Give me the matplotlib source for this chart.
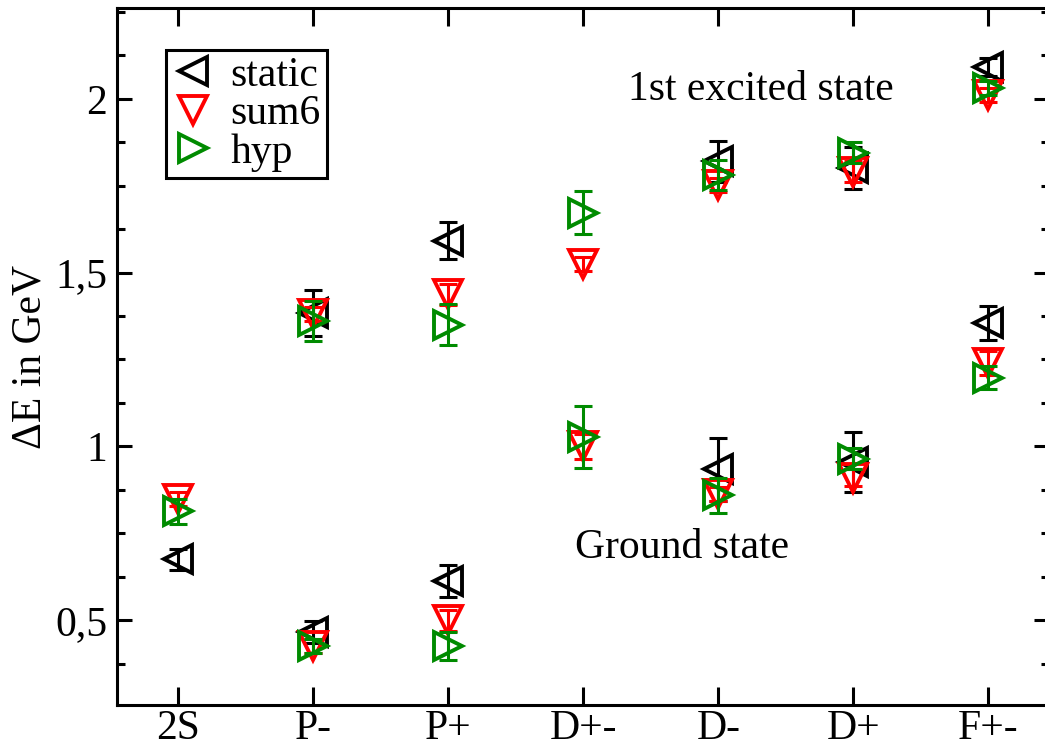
import numpy as np
import matplotlib
matplotlib.use("Agg")
import matplotlib.pyplot as plt
from matplotlib.ticker import FixedLocator, MultipleLocator, FuncFormatter
from matplotlib.font_manager import FontProperties

nan = np.nan

#categories on the x axis
cats = ["2S", "P-", "P+", "D+-", "D-", "D+", "F+-"]

#ground state values
static_gs = [0.675, 0.465, 0.612, nan, 0.934, 0.955, 1.356]
static_gs_err = [0.03, 0.032, 0.046, nan, 0.09, 0.085, 0.049]
sum6_gs = [0.848, 0.425, 0.50, 1.0, 0.862, 0.91, 1.24]
sum6_gs_err = [0.02, 0.02, 0.03, 0.035, 0.02, 0.025, 0.035]
hyp_gs = [0.813, 0.425, 0.425, 1.026, 0.859, 0.965, 1.198]
hyp_gs_err = [0.036, 0.02, 0.04, 0.089, 0.05, 0.03, 0.033]

#1st excited state values
static_ex = [nan, 1.385, 1.592, nan, 1.82, 1.8, 2.092]
static_ex_err = [nan, 0.066, 0.053, nan, 0.058, 0.06, 0.025]
sum6_ex = [nan, 1.38, 1.437, 1.526, 1.753, 1.79, 2.01]
sum6_ex_err = [nan, 0.02, 0.03, 0.02, 0.02, 0.03, 0.02]
hyp_ex = [nan, 1.36, 1.35, 1.672, 1.78, 1.845, 2.032]
hyp_ex_err = [nan, 0.057, 0.059, 0.062, 0.043, 0.03, 0.02]

FAM = ["Liberation Serif", "DejaVu Serif"]
plt.rcParams["font.family"] = FAM
plt.rcParams["font.size"] = 30
fp = FontProperties(family=FAM, size=30)

x = np.arange(1, len(cats) + 1)

fig = plt.figure(figsize=(10.45, 7.45), dpi=100)
ax = fig.add_axes([0.112, 0.0537, 0.892, 0.935])

series = [
    ("static", "<", "black", [static_gs, static_ex], [static_gs_err, static_ex_err]),
    ("sum6", "v", "red", [sum6_gs, sum6_ex], [sum6_gs_err, sum6_ex_err]),
    ("hyp", ">", "#008b00", [hyp_gs, hyp_ex], [hyp_gs_err, hyp_ex_err]),
]

#draw error bars and hollow triangles for each series
for name, m, col, vals, errs in series:
    for k in range(2):
        ax.errorbar(x, vals[k], yerr=errs[k], fmt="none", ecolor=col,
                    elinewidth=2.2, capsize=6.5, capthick=2.2)
        ax.plot(x, vals[k], linestyle="none", marker=m, ms=20, mfc="none",
                mec=col, mew=2.8, label=name if k == 0 else None)

ax.text(4.33, 2.026, "1st excited state", va="center", ha="left", fontproperties=fp)
ax.text(3.94, 0.707, "Ground state", va="center", ha="left", fontproperties=fp)

ax.set_xlim(0.548, 7.45)
ax.set_ylim(0.256, 2.26)
ax.set_xticks(x)
ax.set_xticklabels(cats, fontproperties=fp)
ax.yaxis.set_major_locator(FixedLocator([0.5, 1.0, 1.5, 2.0]))
ax.yaxis.set_minor_locator(MultipleLocator(0.125))
ax.yaxis.set_major_formatter(FuncFormatter(lambda v, p: ("%g" % v).replace(".", ",")))
ax.set_ylabel("ΔE in GeV", fontproperties=fp, labelpad=4)

for s in ax.spines.values():
    s.set_linewidth(2.2)
ax.tick_params(axis="x", which="major", direction="in", top=True, length=13, width=2.2, pad=3)
ax.tick_params(axis="y", which="major", direction="in", right=True, length=11, width=2.2, pad=7)
ax.tick_params(axis="y", which="minor", direction="in", right=True, length=6, width=2.2)

leg = ax.legend(loc="upper left", bbox_to_anchor=(0.052, 0.94), frameon=True,
                fancybox=False, edgecolor="black", framealpha=1.0, prop=fp,
                handlelength=1.0, handletextpad=0.4, labelspacing=0.0,
                borderpad=0.15, borderaxespad=0.0, markerscale=1.0)
leg.get_frame().set_linewidth(2.2)

fig.canvas.draw()
for lab in ax.get_yticklabels() + ax.get_xticklabels():
    lab.set_fontproperties(fp)

fig.savefig("out.png", dpi=100)
